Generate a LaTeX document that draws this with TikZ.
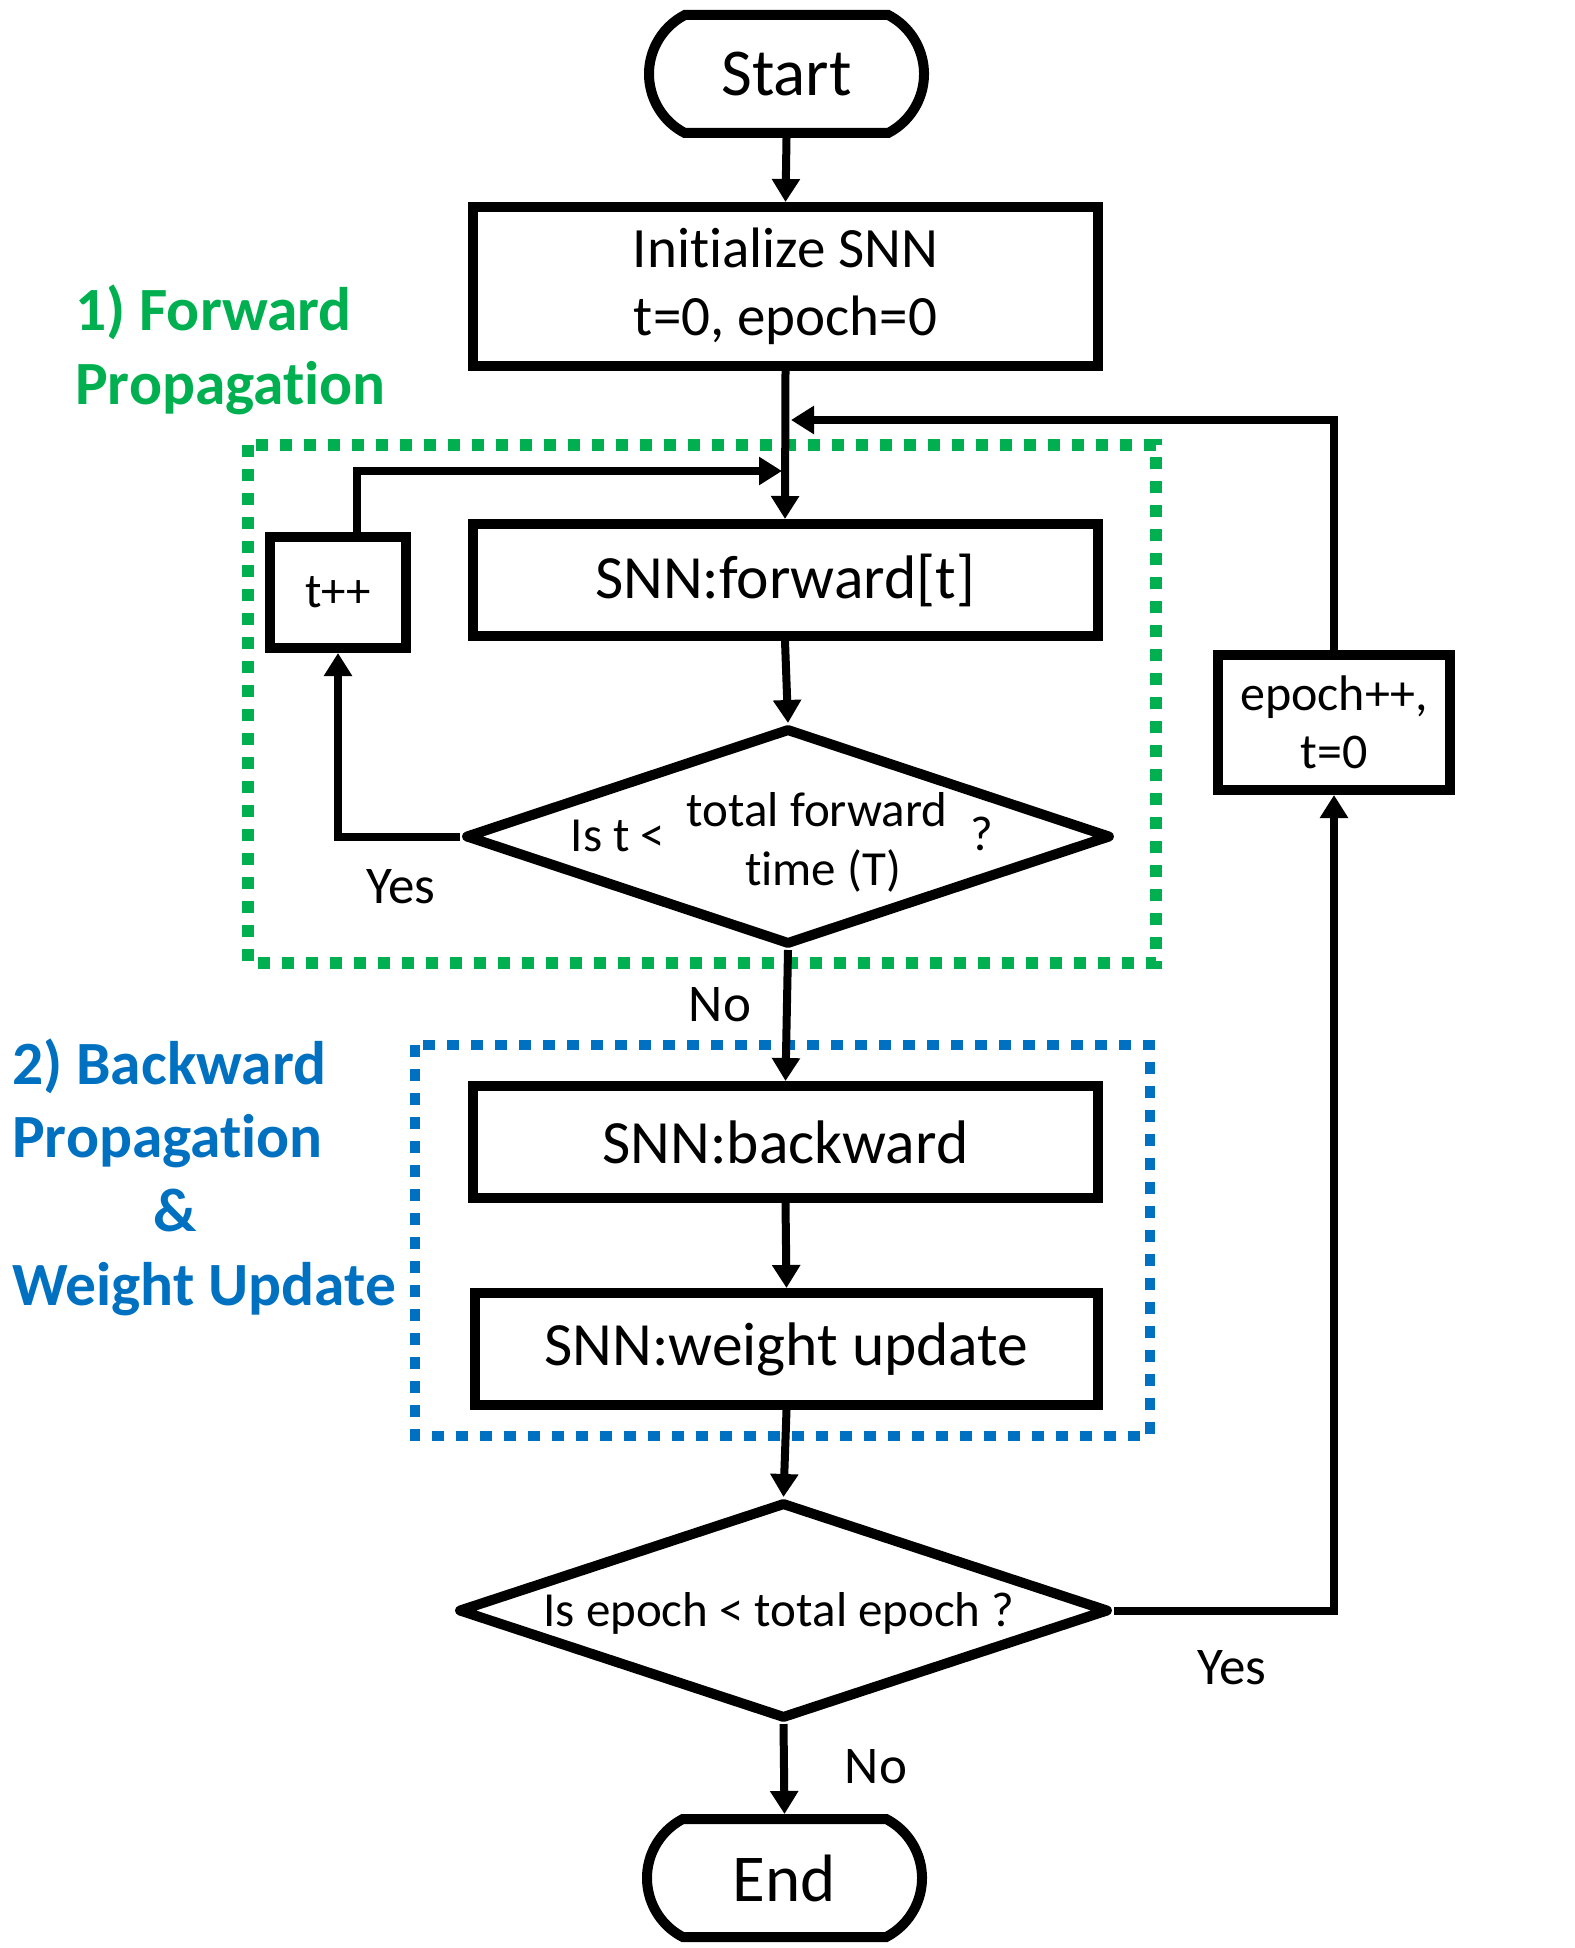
\documentclass[tikz,border=0pt]{standalone}
\usepackage{fontspec}
\setmainfont{Carlito}[Ligatures={NoCommon}]
\usetikzlibrary{arrows.meta,shapes.misc,shapes.geometric}
\definecolor{fgreen}{HTML}{00B050}
\definecolor{bblue}{HTML}{0070C0}
\begin{document}
\begin{tikzpicture}[x=1pt,y=-1pt,
  box/.style={draw, line width=10pt, inner sep=0pt, minimum width=625pt, minimum height=112pt, font=\fontsize{61.5}{70}\selectfont},
  term/.style={draw, rounded rectangle, rounded rectangle arc length=125, line width=10pt, minimum width=275pt, minimum height=118pt, inner sep=0pt, font=\fontsize{67}{70}\selectfont},
  dec/.style={draw, diamond, line width=10pt, line join=round, inner sep=0pt},
  dtxt/.style={inner sep=0pt, font=\fontsize{49}{56}\selectfont},
  arr/.style={line width=8pt, -{Triangle[length=23pt,width=27pt]}},
  lbl/.style={inner sep=0pt, anchor=base, font=\fontsize{53}{60}\selectfont},
  sect/.style={inner sep=0pt, anchor=base west, font=\fontsize{61.5}{70}\selectfont\bfseries},
  gdots/.style={draw=fgreen, line width=12pt, dash pattern=on 12pt off 12pt},
  bdots/.style={draw=bblue, line width=10pt, dash pattern=on 12pt off 12pt}]
\useasboundingbox (0,0) rectangle (1574,1948);

% dotted group frames
\draw[gdots] (248,445) rectangle (1156,963);
\draw[bdots] (415,1045) rectangle (1150,1436);

% section labels
\node[sect, text=fgreen] (f1) at (75,330) {1) Forward};
\node[sect, text=fgreen] (f2) at (75,404) {Propagation};
\node[sect, text=bblue] (b1) at (12,1084) {2) Backward};
\node[sect, text=bblue] (b2) at (12,1157) {Propagation};
\node[sect, text=bblue, anchor=base] (b3) at (175,1231) {\&};
\node[sect, text=bblue] (b4) at (12,1305) {Weight Update};

% nodes
\node[term] (start) at (786.5,74) {Start};
\node[box, minimum height=159pt, align=center, font=\fontsize{57}{68}\selectfont] (init) at (785.5,286.5) {Initialize SNN\\t=0, epoch=0};
\node[box] (fwd) at (785,580) {SNN:forward[t]};
\node[box, minimum width=136pt, minimum height=111pt, font=\fontsize{49}{56}\selectfont] (tpp) at (338,592.5) {t++};
\node[dec, minimum width=646pt, minimum height=217pt] (d1) at (788,836.5) {};
\node[dtxt, anchor=base] (d1a) at (618,851) {Is t <};
\node[dtxt, anchor=base] (d1b) at (817,826) {total forward};
\node[dtxt, anchor=base] (d1c) at (823,885) {time (T)};
\node[dtxt, anchor=base] (d1q) at (982,850) {?};
\node[box] (bwd) at (785.5,1142) {SNN:backward};
\node[box, minimum width=623pt] (wu) at (786.5,1349) {SNN:weight update};
\node[dec, minimum width=651pt, minimum height=217pt] (d2) at (783.5,1610.5) {};
\node[dtxt, anchor=base] (d2t) at (779,1626) {Is epoch < total epoch ?};
\node[box, minimum width=232pt, minimum height=135pt, align=center, font=\fontsize{50}{58}\selectfont] (ep) at (1334,722.5) {epoch++,\\t=0};
\node[term] (end) at (784.5,1878) {End};

% edge labels
\node[lbl] (yes1) at (401,903) {Yes};
\node[lbl] (no1) at (720,1021) {No};
\node[lbl] (yes2) at (1232,1684) {Yes};
\node[lbl] (no2) at (876,1783) {No};

% junction points
\coordinate (j1) at (782,471);
\coordinate (j2) at (791,420);

% connectors
\draw[arr] (start.south) -- (init.north);
\draw[arr] (init.south) -- (fwd.north);
\draw[arr] (fwd.south) -- (d1.north);
\draw[arr] (d1.west) -| (tpp.south);
\draw[arr] ([xshift=19pt]tpp.north) |- (j1);
\draw[arr] (d1.south) -- (bwd.north);
\draw[arr] (bwd.south) -- (wu.north);
\draw[arr] (wu.south) -- (d2.north);
\draw[arr] (d2.south) -- (end.north);
\draw[arr] (d2.east) -| (ep.south);
\draw[arr] (ep.north) |- (j2);
\end{tikzpicture}
\end{document}
